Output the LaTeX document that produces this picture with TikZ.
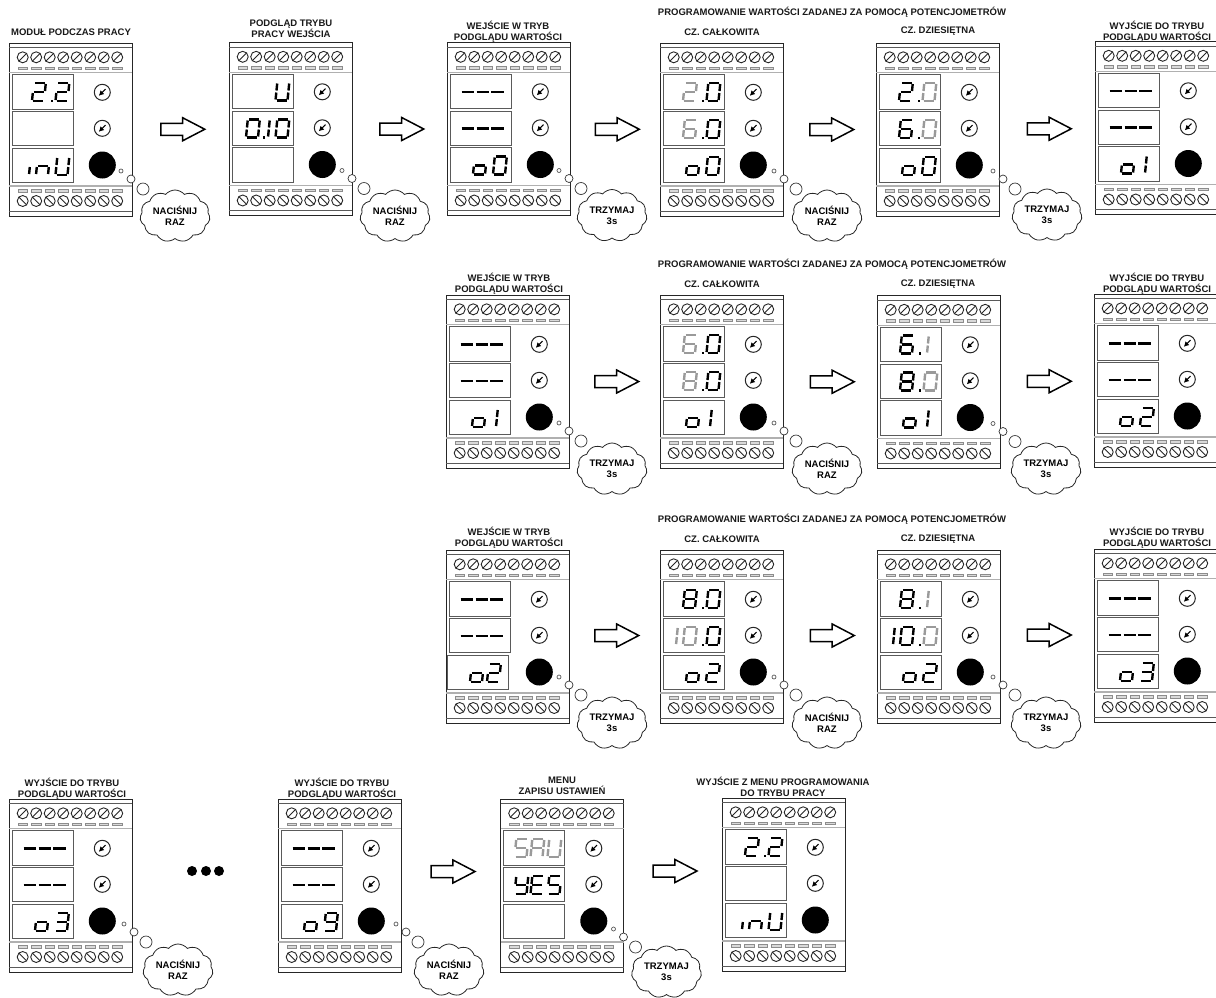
\documentclass[tikz,border=0pt]{standalone}
\usepackage{fontspec}
\setmainfont{Liberation Sans}
\usetikzlibrary{shapes.symbols,shapes.arrows,arrows.meta}
\definecolor{dimseg}{HTML}{9A9A9A}
\definecolor{rail}{HTML}{5A5A5A}
\definecolor{pale}{HTML}{B0B0B0}
\tikzset{
 modbody/.style={draw=black!85,line width=.9pt,minimum width=123pt,minimum height=173pt,anchor=north west,inner sep=0pt,outer sep=0pt},
 display/.style={draw=rail,line width=.9pt},
 railline/.style={draw=rail,line width=.8pt},
 softline/.style={draw=pale,line width=1.1pt},
 screw/.style={draw=black!85,line width=.9pt},
 slot/.style={draw=black!45,fill=black!15,line width=.4pt},
 digit/.style={line width=2.4pt,line cap=butt},
 thinking/.style={draw=black!80,line width=.7pt,fill=white},
 bubble/.style={cloud,cloud puffs=11,cloud puff arc=100,cloud ignores aspect,draw=black!85,line width=.8pt,fill=white,minimum width=70pt,minimum height=52pt,inner sep=0pt,align=center,font=\bfseries\fontsize{9.5}{11}\selectfont},
 caption/.style={align=center,inner sep=0pt,font=\bfseries\fontsize{9.5}{11}\selectfont,text=black!90},
 hollow/.style={single arrow,draw=black,line width=1.5pt,fill=white,minimum height=44pt,minimum width=23pt,single arrow head extend=5.5pt,single arrow head indent=0pt,single arrow tip angle=55,inner sep=0pt,xshift=-3.5pt},
 bigdot/.style={circle,fill=black,minimum size=10pt,inner sep=0pt}
}
% seven segments
\def\sgna{(1,-18)--(11,-18)}
\def\sgng{(1,-9)--(11,-9)}
\def\sgnd{(1,0)--(11,0)}
\def\sgnf{(0,-10)--(0,-17)}
\def\sgnb{(12,-10)--(12,-17)}
\def\sgne{(0,-1)--(0,-8)}
\def\sgnc{(12,-1)--(12,-8)}
\def\chO{a,b,c,d,e,f}
\def\chI{b,c}
\def\chII{a,b,g,e,d}
\def\chIII{a,b,c,d,g}
\def\chV{a,c,d,f,g}
\def\chVI{a,c,d,e,f,g}
\def\chVIII{a,b,c,d,e,f,g}
\def\chIX{a,b,c,d,f,g}
\def\chU{b,c,d,e,f}
\def\chLo{c,d,e,g}
\def\chN{c,e,g}
\def\chA{a,b,c,e,f,g}
\def\chY{b,c,d,f,g}
\def\chE{a,d,e,f,g}
\def\rowbase#1{\ifcase#1\or58\or95\or132\fi}
% \dg{row}{x}{segments}{colour}
\newcommand\dg[4]{%
 \begin{scope}[shift={(#2,\rowbase{#1})},xslant=.1,draw=#4]
 \foreach \s in #3 {\expandafter\let\expandafter\cursg\csname sgn\s\endcsname \draw[digit] \cursg;}
 \end{scope}}
\newcommand\pnt[2]{\fill[black] (#2,\rowbase{#1}+1.2) rectangle ++(2.6,-2.6);}
\newcommand\dashrow[1]{\foreach \q in {14.5,29.5,44} {\draw[line width=2.5pt] (\q,{#1}) -- ++(12.5,0);}}
% \module[third box shift]{name}{x}{y}{contents}
\newcommand\module[5][0]{%
 \begin{scope}[shift={(#3,#4)}]
 \def\mname{#2}
 \node[modbody] (#2) at (0,0) {};
 \draw[railline] (0,4.7) -- (123,4.7);
 \draw[railline] (0,168) -- (123,168);
 \draw[softline] (0,29.7) -- (123,29.7);
 \draw[softline] (0,143) -- (123,143);
 \foreach \i in {0,...,7} {
  \pgfmathsetmacro\sx{13.7+13.5*\i}
  \draw[screw] (\sx,14.3) circle (5.5);
  \draw[screw] (\sx-3.9,18.2) -- (\sx+3.9,10.4);
  \draw[slot] (\sx-4.7,23.8) rectangle (\sx+4.7,26.2);
  \draw[slot] (\sx-4.7,146.6) rectangle (\sx+4.7,149);
  \draw[screw] (\sx,158) circle (5.5);
  \draw[screw] (\sx-3.9,154.1) -- (\sx+3.9,161.9);
 }
 \draw[display] (3,31.7) rectangle (64,66);
 \draw[display] (3,68.7) rectangle (64,102.7);
 \draw[display] ({3+#1},105.3) rectangle ({64+#1},139.7);
 \foreach \py in {49.3,85.3} {
  \draw[line width=1pt,draw=black!85] (93.3,\py) circle (8);
  \draw[-{Latex[length=5pt,width=5.5pt]},line width=1.2pt] (96.5,\py-3.2) -- (89.8,\py+3.5);
 }
 \fill[black] (93.3,122) circle (13.5);
 #5
 \end{scope}}
% \thought{dx}{dy}{cloud x}{cloud y}{text}
\newcommand\thought[5]{%
 \draw[thinking,draw=rail] ({112+#1},{128+#2}) circle (2);
 \draw[thinking] ({122+#1},{136+#2}) circle (4);
 \draw[thinking] ({134+#1},{146+#2}) circle (6);
 \node[bubble] (\mname-cloud) at (#3,#4) {#5};}
\newcommand\press{NACIŚNIJ\\RAZ}
\newcommand\hold{TRZYMAJ\\3s}
\newcommand\nodashes{\dashrow{49.3}\dashrow{86}}
\newcommand\step[3][0pt]{\path (#2.east) -- node[hollow,yshift=#1] (#2-#3) {\rule{0pt}{10.5pt}} (#3.west);}
\newcommand\oprog[1]{\dg{3}{26}{\chLo}{black}\dg{3}{46}{#1}{black}}
\newcommand\oone{\dg{3}{26}{\chLo}{black}\dg{3}{38}{\chI}{black}}
\newcommand\runview{\dg{1}{23}{\chII}{black}\pnt{1}{41.5}\dg{1}{46.5}{\chII}{black}%
 \begin{scope}[shift={(20,\rowbase{3})},xslant=.1]\draw[digit] \sgne;\end{scope}%
 \dg{3}{27}{\chN}{black}\dg{3}{46.5}{\chU}{black}}
\begin{document}
\begin{tikzpicture}[x=1pt,y=-1pt]
\clip (0,0) rectangle (1216,997);
\fill[white] (0,0) rectangle (1216,997);

% ---------- row 1
\node[caption] (t11) at (71,32) {MODUŁ PODCZAS PRACY};
\node[caption] (t12) at (291,28.5) {PODGLĄD TRYBU\\PRACY WEJŚCIA};
\node[caption] (t13) at (508,31.5) {WEJŚCIE W TRYB\\PODGLĄDU WARTOŚCI};
\node[caption] (h1) at (832,12) {PROGRAMOWANIE WARTOŚCI ZADANEJ ZA POMOCĄ POTENCJOMETRÓW};
\node[caption] (t14) at (722,32) {CZ. CAŁKOWITA};
\node[caption] (t15) at (938,31.5) {CZ. DZIESIĘTNA};
\node[caption] (t16) at (1157,31.5) {WYJŚCIE DO TRYBU\\PODGLĄDU WARTOŚCI};

\module{m11}{9}{43}{\runview\thought{0}{0}{166}{173}{\press}}
\module{m12}{229}{42.5}{\dg{1}{46.5}{\chU}{black}
 \dg{2}{17}{\chO}{black}\pnt{2}{33.5}\dg{2}{27}{\chI}{black}\dg{2}{46.5}{\chO}{black}
 \thought{1}{0}{166}{173.5}{\press}}
\module{m13}{447}{42.5}{\nodashes\oprog{\chO}\thought{0}{0}{165}{173}{\hold}}
\module{m14}{660}{43}{\dg{1}{23}{\chII}{dimseg}\pnt{1}{41.5}\dg{1}{46.5}{\chO}{black}
 \dg{2}{23}{\chVI}{dimseg}\pnt{2}{41.5}\dg{2}{46.5}{\chO}{black}
 \oprog{\chO}\thought{2}{0}{167}{173}{\press}}
\module{m15}{876}{43}{\dg{1}{23}{\chII}{black}\pnt{1}{41.5}\dg{1}{46.5}{\chO}{dimseg}
 \dg{2}{23}{\chVI}{black}\pnt{2}{41.5}\dg{2}{46.5}{\chO}{dimseg}
 \oprog{\chO}\thought{5}{0}{171}{172}{\hold}}
\module{m16}{1095}{41.5}{\nodashes\oone}
\step{m11}{m12}\step{m12}{m13}\step{m13}{m14}\step{m14}{m15}\step{m15}{m16}

% ---------- row 2
\node[caption] (t21) at (509,283.5) {WEJŚCIE W TRYB\\PODGLĄDU WARTOŚCI};
\node[caption] (h2) at (832,264) {PROGRAMOWANIE WARTOŚCI ZADANEJ ZA POMOCĄ POTENCJOMETRÓW};
\node[caption] (t22) at (722,284) {CZ. CAŁKOWITA};
\node[caption] (t23) at (938,284) {CZ. DZIESIĘTNA};
\node[caption] (t24) at (1157,283.5) {WYJŚCIE DO TRYBU\\PODGLĄDU WARTOŚCI};

\module{m21}{446}{295}{\nodashes\oone\thought{1}{0}{166}{174}{\hold}}
\module{m22}{660}{295}{\dg{1}{23}{\chVI}{dimseg}\pnt{1}{41.5}\dg{1}{46.5}{\chO}{black}
 \dg{2}{23}{\chVIII}{dimseg}\pnt{2}{41.5}\dg{2}{46.5}{\chO}{black}
 \oone\thought{2}{0}{167}{174}{\press}}
\module{m23}{877}{295.5}{\dg{1}{23}{\chVI}{black}\pnt{1}{41.5}\dg{1}{38}{\chI}{dimseg}
 \dg{2}{23}{\chVIII}{black}\pnt{2}{41.5}\dg{2}{46.5}{\chO}{dimseg}
 \oone\thought{4}{0}{169}{173.5}{\hold}}
\module{m24}{1094}{294}{\nodashes\oprog{\chII}}
\step{m21}{m22}\step{m22}{m23}\step{m23}{m24}

% ---------- row 3
\node[caption] (t31) at (509,537.5) {WEJŚCIE W TRYB\\PODGLĄDU WARTOŚCI};
\node[caption] (h3) at (832,519) {PROGRAMOWANIE WARTOŚCI ZADANEJ ZA POMOCĄ POTENCJOMETRÓW};
\node[caption] (t32) at (722,539) {CZ. CAŁKOWITA};
\node[caption] (t33) at (938,539) {CZ. DZIESIĘTNA};
\node[caption] (t34) at (1157,537.5) {WYJŚCIE DO TRYBU\\PODGLĄDU WARTOŚCI};

\module[-1.7]{m31}{446}{550}{\nodashes\dg{3}{24}{\chLo}{black}\dg{3}{41}{\chII}{black}\thought{1}{-1}{166}{173}{\hold}}
\module{m32}{660}{550}{\dg{1}{23}{\chVIII}{black}\pnt{1}{41.5}\dg{1}{46.5}{\chO}{black}
 \dg{2}{4}{\chI}{dimseg}\dg{2}{23}{\chO}{dimseg}\pnt{2}{41.5}\dg{2}{46.5}{\chO}{black}
 \oprog{\chII}\thought{2}{-1}{167}{173}{\press}}
\module{m33}{877}{550}{\dg{1}{23}{\chVIII}{black}\pnt{1}{41.5}\dg{1}{38}{\chI}{dimseg}
 \dg{2}{4}{\chI}{black}\dg{2}{23}{\chO}{black}\pnt{2}{41.5}\dg{2}{46.5}{\chO}{dimseg}
 \oprog{\chII}\thought{4}{-1}{169}{173}{\hold}}
\module{m34}{1094}{549}{\nodashes\oprog{\chIII}}
\step[1pt]{m31}{m32}\step[1pt]{m32}{m33}\step[1pt]{m33}{m34}

% ---------- row 4
\node[caption] (t41) at (72,788.5) {WYJŚCIE DO TRYBU\\PODGLĄDU WARTOŚCI};
\node[caption] (t42) at (342,788.5) {WYJŚCIE DO TRYBU\\PODGLĄDU WARTOŚCI};
\node[caption] (t43) at (562,785.5) {MENU\\ZAPISU USTAWIEŃ};
\node[caption] (t44) at (783,786.5) {WYJŚCIE Z MENU PROGRAMOWANIA\\DO TRYBU PRACY};

\module{m41}{9}{799}{\nodashes\oprog{\chIII}\thought{3}{-3}{169}{171}{\press}}
\module{m42}{278}{799}{\nodashes\oprog{\chIX}\thought{6}{-3}{171}{171}{\press}}
\module{m43}{500.5}{799}{\dg{1}{14}{\chV}{dimseg}\dg{1}{30}{\chA}{dimseg}\dg{1}{47}{\chU}{dimseg}
 \dg{2}{14}{\chY}{black}\dg{2}{30}{\chE}{black}\dg{2}{47}{\chV}{black}
 \thought{1}{2}{166}{173}{\hold}}
\module{m44}{722}{798}{\runview}
\node[bigdot] (e1) at (192,871) {};
\node[bigdot] (e2) at (206,871) {};
\node[bigdot] (e3) at (219,871) {};
\step[14pt]{m42}{m43}\step[14pt]{m43}{m44}
\end{tikzpicture}
\end{document}
